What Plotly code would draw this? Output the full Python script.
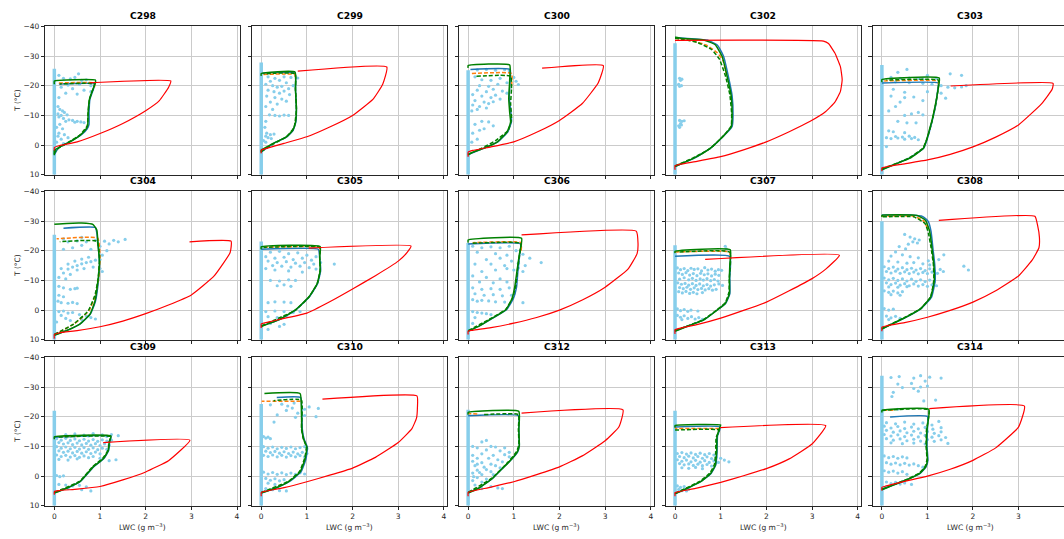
import plotly.graph_objects as go

# ---------------------------------------------------------------- data
PANELS = ["C298", "C299", "C300", "C302", "C303",
          "C304", "C305", "C306", "C307", "C308",
          "C309", "C310", "C312", "C313", "C314"]

X_TICKS = [0, 1, 2, 3, 4]
Y_TICKS = [-40, -30, -20, -10, 0, 10]

# top temperature of the dense column of near-zero LWC samples
COLUMN_TOP = {"C298": -25.7, "C299": -27.8, "C300": -25.2, "C302": -34.3, "C303": -27.0,
              "C304": -25.4, "C305": -23.1, "C306": -22.6, "C307": -21.8, "C308": -29.9,
              "C309": -22.0, "C310": -24.3, "C312": -22.3, "C313": -22.0, "C314": -33.8}

# in-cloud LWC samples (g m-3, T degC)
OBS = {
    "C298": [(0.53, -24), (0.1, -23.5), (0.2, -22.5), (0.35, -22.3), (0.45, -22.8), (0.6, -21.8),
             (0.7, -22), (0.8, -20), (0.55, -20.5), (0.3, -20.2), (0.15, -19.5), (0.4, -19),
             (0.65, -18.5), (0.8, -18), (0.25, -17.5), (0.5, -17.2), (0.1, -16), (0.08, -13),
             (0.12, -12), (0.18, -11.5), (0.22, -11), (0.08, -10.5), (0.15, -10), (0.28, -10.2),
             (0.1, -9.5), (0.2, -9), (0.32, -8.5), (0.4, -8.3), (0.5, -8), (0.58, -7.8),
             (0.65, -7.6), (0.45, -7.7), (0.25, -8), (0.12, -7), (0.05, -6), (0.18, -5.5),
             (0.1, -4), (0.22, -3.5), (0.08, -3), (0.15, -2), (0.3, -2.5), (0.05, -1), (0.2, -0.5)],
    "C299": [(0.15, -23), (0.3, -22.5), (0.5, -23), (0.65, -22.8), (0.8, -22.6), (0.2, -21.5),
             (0.4, -21.8), (0.55, -21), (0.1, -20.5), (0.25, -20), (0.35, -19.5), (0.45, -19.8),
             (0.6, -19), (0.7, -20), (0.15, -18.5), (0.28, -18), (0.4, -17.5), (0.5, -18.2),
             (0.62, -17), (0.12, -16.5), (0.3, -16), (0.45, -15.5), (0.2, -14.5), (0.35, -13.8),
             (0.55, -14.8), (0.1, -13), (0.25, -12), (0.18, -10.2), (0.3, -10), (0.4, -9.8),
             (0.5, -10.1), (0.6, -10), (0.1, -8), (0.08, -6), (0.12, -4), (0.2, -3.5),
             (0.28, -3.7), (0.1, -3), (0.15, -2.5), (0.22, -2.2), (0.05, -1.5), (0.1, -1)],
    "C300": [(0.2, -25.3), (0.4, -25.5), (0.6, -25.2), (0.8, -25.4), (0.9, -25), (1.0, -22.8),
             (1.05, -21.5), (1.1, -20.4), (0.15, -23), (0.3, -22), (0.5, -21.8), (0.7, -22.5),
             (0.85, -21), (0.25, -20), (0.45, -19.8), (0.65, -20.5), (0.2, -18.5), (0.4, -18),
             (0.55, -18.8), (0.75, -18.2), (0.85, -17.5), (0.1, -17), (0.3, -16.5), (0.5, -16),
             (0.6, -16.8), (0.7, -15.5), (0.15, -15), (0.35, -14.5), (0.45, -14), (0.55, -14.6),
             (0.1, -13.5), (0.25, -13), (0.4, -12.5), (0.2, -12), (0.08, -11.5), (0.3, -8),
             (0.45, -7.8), (0.15, -7), (0.55, -6.5), (0.25, -5), (0.1, -4), (0.35, -5.5),
             (0.2, -2), (0.08, -1)],
    "C302": [(0.1, -22.5), (0.15, -22.2), (0.12, -21.8), (0.08, -20.5), (0.1, -19.8), (0.14, -20),
             (0.1, -8.3), (0.15, -8), (0.2, -8.2), (0.12, -7.2), (0.08, -6.5), (0.14, -6.8),
             (0.1, -6)],
    "C303": [(0.35, -24.5), (0.55, -25.5), (0.9, -22.2), (1.0, -23.5), (1.2, -22.5), (1.5, -24),
             (1.75, -23.5), (0.2, -22.8), (0.4, -22.5), (0.6, -22.6), (0.8, -22.4), (0.3, -21.3),
             (0.6, -21), (0.9, -20.8), (1.1, -20.5), (1.3, -20), (1.45, -19.5), (1.6, -19.3),
             (1.75, -19.6), (1.85, -20), (0.25, -18.8), (0.5, -17.8), (1.0, -18), (1.3, -17.5),
             (1.4, -15.8), (0.2, -16.5), (0.5, -16), (0.7, -16.2), (0.4, -14.5), (0.9, -15),
             (0.3, -13), (0.15, -11.5), (0.5, -10), (0.8, -11), (0.65, -10.5), (0.9, -10.2),
             (0.35, -8), (0.55, -7.5), (0.75, -7.5), (0.25, -4.5), (0.15, -4.8), (0.5, -4.2),
             (0.1, -2.5), (0.2, -2.2), (0.35, -2.4), (0.5, -2), (0.65, -2.2), (0.8, -1.8),
             (0.3, -2.9), (0.45, -2.7), (0.6, -3.0), (0.72, -2.6), (0.1, 0.5)],
    "C304": [(0.3, -23), (0.5, -23.3), (0.7, -23), (0.9, -23.5), (1.1, -23.2), (1.3, -23.5),
             (1.4, -23), (1.55, -23.8), (0.2, -24), (0.6, -24.5), (1.2, -22.3), (1.0, -21.5),
             (1.15, -20), (1.05, -18.5), (0.8, -20.5), (0.6, -21.8), (0.4, -21), (0.2, -20.5),
             (0.1, -11), (0.2, -12.5), (0.3, -13.8), (0.4, -14.5), (0.5, -15), (0.6, -15.6),
             (0.7, -16), (0.8, -16.3), (0.9, -16.8), (1.0, -17), (0.15, -14), (0.3, -15.5),
             (0.45, -16.5), (0.6, -17.2), (0.75, -17.8), (0.25, -10.5), (0.35, -12), (0.5, -13.5),
             (0.65, -14), (0.85, -14.5), (1.0, -14), (1.05, -13), (0.1, -8), (0.2, -7.5),
             (0.35, -7), (0.45, -7.2), (0.5, -7.4), (0.1, -5), (0.2, -4.5), (0.08, -3),
             (0.15, -2.5), (0.3, -2.3), (0.4, -2.6), (0.5, -2.2), (0.1, 0.5), (0.2, 0.3),
             (0.3, 1), (0.4, 0.8), (0.55, 1.5), (0.7, 2), (0.8, 2.5), (0.9, 3), (0.6, 3.2),
             (0.15, 1.8), (0.25, 2.8), (0.35, 3.5), (0.05, 4)],
    "C305": [(0.2, -19.5), (0.4, -19.8), (0.6, -19), (0.8, -19.3), (1.0, -18.5), (1.2, -18),
             (0.1, -18), (0.3, -17.5), (0.5, -17.8), (0.7, -17), (0.9, -17.5), (1.1, -16.8),
             (1.3, -16), (0.15, -16.5), (0.35, -16), (0.55, -16.3), (0.75, -15.8), (0.95, -16),
             (1.15, -15.5), (1.6, -15.5), (0.25, -15), (0.45, -14.8), (0.65, -14.5), (0.85, -14.8),
             (1.05, -14.3), (1.2, -13.8), (0.1, -14), (0.3, -13.5), (0.6, -13.2), (0.9, -12.8),
             (0.2, -10), (0.4, -9.8), (0.6, -10.2), (0.75, -10), (0.5, -8.5), (0.35, -8.2),
             (0.65, -8), (0.15, -2.5), (0.3, -2.8), (0.5, -2.7), (0.65, -2.5), (0.1, 0.5),
             (0.3, 0.3), (0.5, 0.5), (0.7, 0.8), (0.85, 0.5), (0.15, 2.2), (0.35, 2.5),
             (0.55, 2), (0.2, 4.5), (0.4, 5.5), (0.5, 4.8), (0.15, 6.5)],
    "C306": [(0.1, -21.5), (0.3, -21), (0.5, -21.3), (0.7, -21), (0.9, -21.5), (1.05, -20),
             (0.2, -19.5), (0.6, -19), (0.85, -18.5), (1.2, -18.8), (1.35, -17.5), (1.6, -16),
             (0.4, -17), (0.7, -17.5), (0.95, -16.5), (1.1, -15.8), (1.25, -15), (0.15, -15.5),
             (0.5, -15.5), (0.8, -15), (0.85, -14), (1.0, -13.5), (1.1, -14.2), (0.3, -13),
             (0.6, -13.5), (1.2, -13), (0.1, -11.5), (0.4, -11), (0.7, -10.5), (0.25, -9.5),
             (0.55, -9.2), (0.85, -9.5), (0.1, -7.5), (0.3, -7), (0.5, -7.2), (0.7, -7),
             (0.9, -7.5), (0.15, -5.5), (0.35, -5), (0.55, -5.2), (0.75, -4.8), (0.95, -5),
             (1.2, -2.5), (0.1, -3.5), (0.2, -3), (0.3, -3.3), (0.45, -3.1), (0.6, -2.8),
             (0.8, -2.7), (0.1, 0.5), (0.2, 0.8), (0.3, 1), (0.4, 1.2), (0.5, 1.5),
             (0.15, 2.5), (0.1, 4.5)],
    "C307": [(0.05, -14.2), (0.12, -13.6), (0.2, -14.0), (0.28, -13.3), (0.35, -14.1), (0.42, -13.7),
             (0.5, -13.9), (0.58, -13.2), (0.65, -14.3), (0.72, -13.5), (0.8, -13.8), (0.88, -13.1),
             (0.95, -13.6), (1.02, -13.4), (0.08, -12.5), (0.16, -12.0), (0.24, -12.6), (0.32, -11.8),
             (0.4, -12.3), (0.48, -11.6), (0.56, -12.4), (0.64, -11.9), (0.72, -12.2), (0.8, -11.5),
             (0.88, -12.1), (0.96, -11.7), (0.1, -10.4), (0.2, -10.9), (0.3, -10.2), (0.38, -10.7),
             (0.46, -10.0), (0.55, -10.5), (0.62, -10.1), (0.7, -10.6), (0.78, -9.9), (0.86, -10.3),
             (0.94, -9.8), (0.06, -9.2), (0.14, -8.7), (0.22, -9.0), (0.3, -8.4), (0.38, -8.9),
             (0.46, -8.3), (0.54, -8.8), (0.62, -8.2), (0.7, -8.6), (0.78, -8.1), (0.86, -8.5),
             (0.96, -8.8), (1.04, -8.3), (0.1, -7.6), (0.18, -7.2), (0.26, -7.7), (0.34, -7.0),
             (0.42, -7.5), (0.5, -6.9), (0.58, -7.3), (0.66, -6.8), (0.74, -7.2), (0.82, -6.7),
             (0.9, -7.0), (0.08, -6.2), (0.16, -5.8), (0.24, -6.3), (0.32, -5.6), (0.4, -6.0),
             (0.48, -5.5), (0.6, -5.9), (0.05, -0.4), (0.12, 0.2), (0.2, -0.2), (0.28, 0.4),
             (0.35, 0.0), (0.5, 0.3), (0.05, 1.8), (0.12, 2.4), (0.2, 1.9), (0.28, 2.8),
             (0.36, 2.2), (0.44, 3.0), (0.52, 2.5), (0.6, 3.1), (0.15, 3.2), (1.1, -21.5),
             (1.12, -20.6)],
    "C308": [(0.5, -25.5), (0.62, -24.6), (0.72, -24.0), (0.82, -23.6), (0.68, -23.0), (0.78, -22.6),
             (0.58, -22.2), (0.38, -21.4), (0.52, -20.6), (0.3, -19.6), (0.45, -18.6), (0.2, -18.2),
             (0.62, -18.0), (0.8, -17.6), (1.02, -16.6), (1.25, -17.0), (1.36, -18.6), (0.15, -16.5),
             (0.35, -16.2), (0.55, -15.8), (0.7, -16.0), (0.9, -15.6), (1.05, -15.2), (1.8, -14.8),
             (1.9, -13.5), (0.05, -14.6), (0.15, -14.0), (0.25, -14.5), (0.35, -13.8), (0.45, -14.3),
             (0.55, -13.6), (0.65, -14.1), (0.75, -13.5), (0.85, -14.0), (0.95, -13.3), (1.05, -13.9),
             (1.15, -13.2), (1.28, -13.7), (0.1, -13.0), (0.2, -12.5), (0.3, -13.1), (0.4, -12.4),
             (0.5, -12.9), (0.6, -12.3), (0.7, -12.8), (0.8, -12.2), (0.9, -12.7), (1.0, -12.3),
             (1.1, -12.8), (1.22, -12.4), (1.35, -13.0), (0.05, -10.8), (0.15, -10.2), (0.25, -10.7),
             (0.35, -10.0), (0.45, -10.5), (0.55, -9.8), (0.65, -10.4), (0.75, -9.7), (0.85, -10.2),
             (0.95, -9.6), (1.05, -10.1), (1.15, -9.5), (0.1, -9.2), (0.2, -8.6), (0.3, -9.1),
             (0.4, -8.4), (0.5, -8.9), (0.6, -8.2), (0.7, -8.8), (0.8, -8.1), (0.9, -8.6),
             (1.0, -8.0), (1.1, -8.5), (1.2, -8.2), (0.15, -7.8), (0.35, -7.7), (0.55, -7.9),
             (0.05, -6.5), (0.15, -6.0), (0.25, -6.4), (0.35, -5.8), (0.45, -6.2), (0.2, -5.2),
             (0.4, -5.0), (0.05, -0.5), (0.15, 0.0), (0.25, -0.3), (0.1, 2.0), (0.2, 2.6),
             (0.3, 2.1), (0.4, 2.8), (0.15, 3.2)],
    "C309": [(0.25, -14.0), (0.45, -14.2), (0.65, -13.8), (0.85, -14.3), (1.05, -13.9), (1.25, -14.0),
             (1.4, -13.6), (0.35, -13.4), (0.75, -13.5), (1.15, -13.3), (0.05, -12.6), (0.15, -12.1),
             (0.25, -12.7), (0.35, -12.0), (0.45, -12.5), (0.55, -11.9), (0.65, -12.4), (0.75, -11.8),
             (0.85, -12.3), (0.95, -11.7), (1.05, -12.2), (1.15, -11.8), (1.25, -12.1), (0.1, -11.3),
             (0.2, -10.8), (0.3, -11.2), (0.4, -10.6), (0.5, -11.1), (0.6, -10.5), (0.7, -11.0),
             (0.8, -10.4), (0.9, -10.9), (1.0, -10.3), (1.1, -10.8), (1.2, -10.4), (0.05, -9.9),
             (0.15, -9.4), (0.25, -9.8), (0.35, -9.2), (0.45, -9.7), (0.55, -9.1), (0.65, -9.6),
             (0.75, -9.0), (0.85, -9.5), (0.95, -8.9), (1.05, -9.4), (1.15, -9.0), (0.1, -8.5),
             (0.2, -8.0), (0.3, -8.4), (0.4, -7.8), (0.5, -8.3), (0.6, -7.7), (0.7, -8.2),
             (0.8, -7.6), (0.9, -8.1), (1.0, -7.5), (0.05, -7.1), (0.15, -6.6), (0.25, -7.0),
             (0.35, -6.4), (0.45, -6.9), (0.55, -6.3), (0.65, -6.8), (0.75, -6.2), (0.85, -6.6),
             (1.0, -6.0), (1.35, -5.5), (1.2, -5.2), (0.1, -5.6), (0.3, -5.4), (0.5, -5.8),
             (0.05, -0.2), (0.12, 0.2), (0.2, -0.1), (0.1, 2.8), (0.25, 3.0), (0.4, 3.3),
             (0.55, 3.1), (0.7, 3.6), (0.3, 4.2), (0.6, 4.6), (0.8, 5.0)],
    "C310": [(0.2, -24.0), (0.45, -24.2), (0.58, -23.6), (0.68, -22.9), (0.72, -24.6), (0.55, -22.1),
             (0.35, -20.6), (0.8, -21.2), (0.95, -20.4), (1.05, -23.3), (1.25, -22.8), (1.2, -20.0),
             (0.75, -19.8), (0.95, -22.5), (0.28, -18.2), (0.05, -13.3), (0.1, -12.8), (0.15, -13.1),
             (0.2, -12.6), (0.05, -9.9), (0.15, -9.4), (0.25, -9.8), (0.35, -9.2), (0.45, -9.7),
             (0.55, -9.3), (0.65, -9.8), (0.75, -9.2), (0.85, -9.6), (0.95, -9.9), (1.0, -9.1),
             (0.1, -8.4), (0.2, -7.9), (0.3, -8.3), (0.4, -7.7), (0.5, -8.2), (0.6, -7.6),
             (0.7, -8.1), (0.8, -7.5), (0.9, -8.0), (1.0, -7.6), (0.05, -7.0), (0.15, -6.6),
             (0.25, -7.1), (0.35, -6.5), (0.45, -7.0), (0.55, -6.4), (0.65, -6.9), (0.75, -6.5),
             (0.85, -6.9), (0.95, -6.5), (0.05, -1.3), (0.15, -0.7), (0.25, -1.2), (0.35, -0.6),
             (0.45, -1.1), (0.55, -0.5), (0.65, -1.0), (0.75, -0.6), (0.85, -1.1), (0.95, -0.7),
             (0.1, 0.8), (0.2, 1.4), (0.3, 0.9), (0.4, 1.6), (0.5, 1.2), (0.15, 2.4),
             (0.3, 2.8), (0.1, 4.2), (0.25, 4.6), (0.4, 4.9), (0.55, 5.0)],
    "C312": [(0.4, -12), (0.3, -11.5), (0.1, -10), (0.2, -9.5), (0.5, -10), (0.6, -9.8),
             (0.8, -9.5), (0.4, -8.8), (0.7, -8.5), (0.9, -8), (0.3, -7.5), (0.55, -7),
             (0.8, -7.2), (0.9, -6.5), (0.2, -6), (0.45, -6), (0.65, -5.5), (0.75, -4.8),
             (0.1, -5), (0.3, -4.5), (0.5, -4), (0.15, -3.5), (0.35, -3), (0.6, -3.5),
             (0.7, -2.8), (0.2, -2), (0.4, -2.2), (0.5, -1.5), (0.1, -1), (0.3, -0.5),
             (0.55, -0.5), (0.2, 0.5), (0.4, 1), (0.1, 1.5), (0.3, 2), (0.15, 3),
             (0.5, 3.5), (0.65, 4), (0.75, 4.2), (0.3, 4.2), (0.1, -7.0), (0.2, -4.0),
             (0.25, -1.2), (0.12, 0.2)],
    "C313": [(0.05, -7.6), (0.15, -7.9), (0.25, -7.4), (0.35, -7.8), (0.45, -7.3), (0.55, -7.7),
             (0.65, -7.2), (0.75, -7.6), (0.85, -7.1), (0.1, -6.6), (0.2, -6.2), (0.3, -6.7),
             (0.4, -6.1), (0.5, -6.6), (0.6, -6.0), (0.7, -6.5), (0.8, -5.9), (0.9, -6.4),
             (1.0, -6.0), (1.08, -5.4), (1.18, -4.8), (0.05, -5.5), (0.15, -5.0), (0.25, -5.4),
             (0.35, -4.8), (0.45, -5.3), (0.55, -4.7), (0.65, -5.2), (0.75, -4.6), (0.85, -5.1),
             (0.95, -4.6), (0.1, -4.2), (0.2, -3.8), (0.3, -4.1), (0.4, -3.6), (0.5, -4.0),
             (0.6, -3.5), (0.7, -3.9), (0.8, -3.4), (0.15, -2.8), (0.3, -2.6), (0.45, -2.9),
             (0.6, -2.5), (0.05, 3.3), (0.12, 3.8), (0.2, 3.5), (0.08, 4.5), (0.15, 4.9),
             (0.25, 5.0), (0.3, 4.4)],
    "C314": [(0.2, -33.2), (0.38, -33.5), (0.7, -33.0), (0.85, -33.8), (1.05, -33.3), (1.3, -33.0),
             (0.35, -31.0), (0.65, -31.2), (0.95, -32.0), (0.45, -29.8), (0.7, -29.5), (0.85, -30.0),
             (1.0, -30.3), (0.25, -28.2), (0.8, -28.6), (0.22, -26.8), (0.92, -25.3), (1.18, -25.6),
             (0.35, -22.5), (0.1, -18.0), (0.3, -17.6), (0.5, -18.2), (0.7, -17.5), (0.9, -17.9),
             (1.1, -17.2), (1.25, -18.4), (0.05, -16.8), (0.2, -16.2), (0.35, -16.7), (0.5, -16.0),
             (0.65, -16.5), (0.8, -15.9), (0.95, -16.4), (1.12, -15.8), (1.3, -16.3), (0.1, -15.4),
             (0.25, -14.8), (0.4, -15.2), (0.55, -14.6), (0.7, -15.1), (0.85, -14.5), (1.0, -15.0),
             (1.15, -14.4), (1.3, -14.9), (0.05, -14.0), (0.2, -13.5), (0.35, -13.9), (0.5, -13.3),
             (0.65, -13.8), (0.8, -13.2), (0.95, -13.7), (1.1, -13.1), (1.25, -13.6), (1.4, -13.0),
             (0.1, -12.6), (0.25, -12.1), (0.4, -12.5), (0.55, -11.9), (0.7, -12.4), (0.85, -11.8),
             (1.0, -12.3), (1.15, -11.7), (1.3, -12.2), (1.45, -11.0), (0.2, -11.2), (0.45, -10.9),
             (0.7, -11.1), (0.95, -10.8), (0.05, -6.8), (0.15, -6.2), (0.25, -6.6), (0.35, -6.0),
             (0.45, -6.5), (0.55, -6.1), (0.1, -4.5), (0.2, -4.0), (0.3, -4.4), (0.4, -3.8),
             (0.5, -4.3), (0.6, -3.7), (0.7, -4.1), (0.8, -3.5), (0.9, -3.0), (0.05, -1.8),
             (0.15, -1.3), (0.25, -1.7), (0.35, -1.0), (0.45, -1.5), (0.55, -0.6), (0.1, 2.0),
             (0.2, 2.5), (0.3, 2.1), (0.4, 2.7), (0.5, 2.3), (0.65, 2.8), (0.1, 3.5)],
}

# adiabatic LWC profile (red)
ADIABATIC = {
    "C298": [(0, 1.8), (0, 0.8), (0.1, 0.2), (0.5, -1.1), (1.0, -3.9), (1.5, -7.3), (2.0, -11.6),
             (2.3, -15), (2.5, -19.4), (2.55, -21.6), (0.77, -21.0)],
    "C299": [(0, 2.8), (0, 1.7), (0.1, 1.2), (0.5, -0.6), (1.0, -2.8), (1.5, -6.1), (2.0, -10),
             (2.45, -15.5), (2.66, -20.5), (2.75, -26.3), (0.8, -24.9)],
    "C300": [(0, 3.9), (0, 2.4), (0.1, 1.8), (0.5, 0.6), (1.0, -1.1), (1.5, -4.3), (2.0, -8.3),
             (2.5, -14), (2.85, -21), (2.96, -26.8), (1.62, -25.9)],
    "C302": [(0, 8.3), (0, 6.9), (0.1, 6.5), (0.5, 5.4), (1.0, 3.9), (1.5, 1.6), (2.0, -1.1),
             (2.5, -4.5), (2.96, -8), (3.3, -11.3), (3.5, -14.5), (3.62, -18), (3.66, -22),
             (3.62, -26.5), (3.5, -31), (3.36, -34.2), (3.25, -35), (0, -35.3)],
    "C303": [(0, 8.8), (0, 7.7), (0.1, 7.3), (0.5, 6.3), (1.0, 5), (1.5, 3.1), (2.0, 0.6),
             (2.5, -2.7), (3.0, -6.8), (3.5, -13.8), (3.74, -18.8), (3.76, -20.8), (1.51, -19.9)],
    "C304": [(0, 9.6), (0, 8.2), (0.1, 7.7), (0.5, 6.9), (1.0, 5.6), (1.5, 3.7), (2.0, 1.2),
             (2.5, -1.7), (3.0, -5.1), (3.5, -11.5), (3.85, -19.4), (3.87, -23.2), (2.96, -23)],
    "C305": [(0, 6.0), (0, 4.6), (0.1, 4.2), (0.5, 2.8), (1.0, 1.0), (1.5, -2.8), (2.0, -7.1),
             (2.5, -11.6), (3.0, -16.5), (3.2, -19.5), (3.28, -21.6), (1.04, -20.9)],
    "C306": [(0, 8.2), (0, 7.1), (0.1, 6.8), (0.5, 5.9), (1.0, 4.4), (1.5, 2.5), (2.0, 0),
             (2.5, -3.4), (3.0, -7.7), (3.5, -13.8), (3.7, -19), (3.72, -22.5), (3.68, -26.6),
             (1.17, -25.3)],
    "C307": [(0, 8), (0, 6.6), (0.1, 6.1), (0.5, 4.8), (1.0, 2.7), (1.5, 0.1), (2.0, -2.7),
             (2.5, -6.5), (3.0, -10.6), (3.3, -13.8), (3.6, -18.5), (0.66, -17.1)],
    "C308": [(0, 7.1), (0, 5.7), (0.1, 5.3), (0.5, 4.2), (1.0, 2.4), (1.5, 0.1), (2.0, -2.7),
             (2.5, -6.5), (3.0, -11.5), (3.3, -16.8), (3.45, -21), (3.46, -24.5), (3.42, -28.5),
             (3.36, -31.6), (1.25, -30.2)],
    "C309": [(0, 6.3), (0, 5.2), (0.1, 4.9), (0.5, 4.4), (1.0, 3.5), (1.5, 1.3), (2.0, -1.4),
             (2.5, -5.2), (2.97, -12.1), (1.07, -11.3)],
    "C310": [(0, 6.8), (0, 5.5), (0.1, 5.1), (0.5, 3.9), (1.0, 1.9), (1.5, -0.3), (2.0, -2.7),
             (2.5, -6.3), (3.0, -11.3), (3.3, -16), (3.4, -19.5), (3.42, -23), (3.41, -27),
             (1.34, -25.9)],
    "C312": [(0, 6.8), (0, 5.5), (0.1, 5.0), (0.5, 3.7), (1.0, 1.9), (1.5, -0.5), (2.0, -3.1),
             (2.5, -6.8), (3.0, -11.9), (3.3, -16.5), (3.39, -22.3), (1.17, -21.2)],
    "C313": [(0, 6.8), (0, 5.6), (0.1, 5.2), (0.5, 4.0), (1.0, 2.1), (1.5, -0.1), (2.0, -2.5),
             (2.5, -5.8), (3.0, -10.8), (3.3, -17), (0.99, -16.3)],
    "C314": [(0, 4.9), (0, 3.8), (0.1, 3.3), (0.5, 1.8), (1.0, 0), (1.5, -2.3), (2.0, -5.3),
             (2.5, -9.5), (3.0, -16.5), (3.13, -23.6), (1.04, -22.7)],
}

# modelled profiles
MODEL_GREEN = {
    "C298": [(0, 3.4), (0, 1.8), (0.12, 0.6), (0.34, -1.1), (0.56, -3.3), (0.69, -5.3), (0.73, -6.6),
             (0.74, -11), (0.77, -15.5), (0.84, -18.6), (0.9, -21), (0.9, -21.9), (0, -21.6), (0, -20.5)],
    "C299": [(0, 2.5), (0, 1.7), (0.1, 0.8), (0.26, -0.6), (0.55, -2.8), (0.69, -5), (0.75, -7.7),
             (0.77, -12.2), (0.75, -18.8), (0.74, -24.6), (0, -24.1), (0, -23.3)],
    "C300": [(0, 3.3), (0.1, 2.4), (0.34, 1.1), (0.64, -1.1), (0.85, -4.4), (0.93, -7.7), (0.91, -11),
             (0.89, -15.5), (0.91, -22), (0.91, -27), (0, -26.8), (0, -26)],
    "C302": [(0, 7.2), (0.41, 4.4), (0.77, 1.1), (1.07, -3.3), (1.23, -6.1), (1.25, -9.9), (1.23, -16.6),
             (1.14, -23.2), (1.03, -29.9), (0.88, -33.8), (0.63, -35.4), (0.12, -36), (0, -36.3)],
    "C303": [(0, 8.3), (0.26, 6.6), (0.62, 4.4), (0.91, 1.1), (0.99, -2.2), (1.04, -5), (1.09, -7.7),
             (1.17, -13.3), (1.24, -19.3), (1.26, -22.6), (0, -22.1), (0, -21.2)],
    "C304": [(0, 8.5), (0.27, 6.9), (0.56, 4.7), (0.78, 1.4), (0.89, -3), (0.96, -10.6), (0.99, -16.1),
             (0.96, -21.6), (0.93, -27), (0.85, -28.8), (0.6, -29.3), (0.27, -29.2), (0, -28.9)],
    "C305": [(0, 5.5), (0.38, 3.3), (0.74, 0), (1.04, -4.4), (1.22, -8.8), (1.29, -13.2), (1.28, -17.6),
             (1.29, -21.4), (0, -21.3), (0, -20.5)],
    "C306": [(0, 7.1), (0.23, 5.5), (0.53, 2.7), (0.82, 0), (0.96, -3.8), (1.02, -7.7), (1.07, -13.2),
             (1.12, -18.7), (1.17, -24.2), (0, -23.6), (0, -22.7)],
    "C307": [(0, 7.1), (0.26, 5.5), (0.63, 3.3), (0.92, 0), (1.1, -2.2), (1.19, -5.5), (1.19, -11),
             (1.2, -15.4), (1.21, -20.3), (0, -19.8), (0, -19.2)],
    "C308": [(0, 6.4), (0.26, 4.4), (0.55, 2.2), (0.85, -0.5), (1.07, -4.4), (1.15, -9.9), (1.14, -15.4),
             (1.1, -20.9), (1.05, -26.4), (0.96, -30.2), (0.77, -31.9), (0, -31.9), (0, -31.4)],
    "C309": [(0, 5.7), (0.27, 4.1), (0.56, 1.9), (0.85, -3.1), (1.07, -5.8), (1.18, -8.6), (1.2, -11.3),
             (1.24, -13.5), (0, -13.2), (0, -12.4)],
    "C310": [(0, 5.7), (0.31, 4.1), (0.6, 1.9), (0.85, -1.4), (0.96, -5.8), (1.0, -9.7), (0.93, -12.4),
             (0.89, -15.7), (0.88, -21.2), (0.85, -27.8), (0.07, -27.8)],
    "C312": [(0, 5.7), (0.23, 4.1), (0.53, 0.8), (0.67, -1.4), (0.89, -4.7), (1.07, -8), (1.12, -10.2),
             (1.11, -15.7), (1.11, -21.8), (0, -21.4), (0, -20.7)],
    "C313": [(0, 6), (0.27, 4.1), (0.56, 1.9), (0.78, -0.9), (0.88, -3.6), (0.91, -8), (0.92, -13.5),
             (0.99, -16.8), (1.0, -17.2), (0, -17.0), (0, -16.3)],
    "C314": [(0, 4.6), (0.25, 3), (0.54, 1.3), (0.83, -0.9), (0.96, -3.1), (1.0, -5.3), (0.98, -10.2),
             (0.99, -15.7), (1.03, -22.5), (0, -22.1), (0, -21.4)],
}

MODEL_GREEN_DASH = {
    "C298": [(0, 3.0), (0.05, 1.5), (0.3, -0.9), (0.56, -3.4), (0.72, -6.5), (0.74, -11), (0.77, -15.5),
             (0.85, -19), (0.88, -20.6), (0.12, -20.6)],
    "C299": [(0, 2.2), (0.28, -0.5), (0.56, -2.9), (0.72, -6), (0.77, -12), (0.75, -19), (0.74, -24.0),
             (0.05, -24.0)],
    "C300": [(0, 3.1), (0.3, 1), (0.6, -1.5), (0.88, -5), (0.95, -9), (0.93, -14), (0.95, -19),
             (0.93, -23.2), (0.18, -23.2)],
    "C302": [(0, 7.0), (0.4, 4.3), (0.78, 1.0), (1.08, -3.4), (1.23, -6.5), (1.24, -10.5), (1.2, -17),
             (1.1, -23.5), (0.97, -29), (0.8, -32.2), (0.5, -34.5), (0.2, -35.6), (0, -36.0)],
    "C303": [(0, 8.1), (0.6, 4.3), (0.9, 1.0), (1.0, -2.5), (1.1, -8), (1.18, -13.5), (1.24, -19.5),
             (1.24, -21.9), (0.1, -21.9)],
    "C304": [(0, 8.2), (0.42, 4.7), (0.74, 0.3), (0.89, -5.1), (0.96, -10.6), (0.99, -18.3), (0.93, -23.2),
             (0.12, -23.0)],
    "C305": [(0, 5.3), (0.75, 0), (1.05, -4.5), (1.23, -9), (1.29, -13.5), (1.28, -18), (1.28, -21.1),
             (0.05, -21.1)],
    "C306": [(0, 6.9), (0.52, 2.6), (0.82, -0.2), (0.97, -4), (1.04, -8), (1.08, -13.5), (1.13, -19),
             (1.15, -22.5), (0.1, -22.5)],
    "C307": [(0, 6.9), (0.62, 3.2), (0.92, -0.1), (1.1, -2.5), (1.18, -6), (1.19, -11), (1.2, -19.5),
             (0.05, -19.5)],
    "C308": [(0, 6.2), (0.55, 2.1), (0.86, -0.6), (1.07, -4.5), (1.14, -10), (1.13, -15.5), (1.08, -21),
             (1.02, -26), (0.95, -29.1), (0.7, -31.4), (0, -31.4)],
    "C309": [(0, 5.5), (0.55, 1.8), (0.84, -3.2), (1.06, -6), (1.18, -8.8), (1.2, -11.5), (1.23, -13.3),
             (0.05, -13.1)],
    "C310": [(0, 5.5), (0.6, 1.7), (0.84, -1.6), (0.95, -6), (0.99, -9.8), (0.92, -12.6), (0.88, -16),
             (0.88, -25.6), (0.27, -25.4)],
    "C312": [(0, 5.5), (0.53, 0.6), (0.88, -4.8), (1.06, -8.2), (1.11, -10.5), (1.1, -16), (1.1, -20.7),
             (0.35, -20.7)],
    "C313": [(0, 5.8), (0.54, 1.8), (0.76, -1.0), (0.86, -3.8), (0.89, -8), (0.9, -13), (0.97, -15.5),
             (0, -15.5)],
    "C314": [(0, 4.4), (0.53, 1.2), (0.82, -1), (0.95, -3.3), (0.99, -5.5), (0.97, -10.3), (0.98, -15.7),
             (1.03, -22.3), (0, -22.1)],
}

MODEL_BLUE = {
    "C298": [(0, 3.2), (0.1, 0.8), (0.35, -1.2), (0.6, -3.6), (0.72, -5.5), (0.76, -7), (0.76, -11),
             (0.78, -15.5), (0.86, -19), (0.88, -20.6), (0.1, -20.6)],
    "C299": [(0, 2.3), (0.27, -0.6), (0.56, -2.8), (0.7, -5), (0.76, -8), (0.77, -12.2), (0.75, -18.8),
             (0.74, -24.2), (0.03, -24.2)],
    "C300": [(0, 3.2), (0.35, 1), (0.66, -1.2), (0.87, -4.5), (0.95, -8), (0.93, -12), (0.9, -16),
             (0.92, -22), (0.92, -25.5), (0.05, -25.5)],
    "C302": [(0, 7.2), (0.42, 4.4), (0.78, 1.0), (1.08, -3.3), (1.25, -6.3), (1.27, -10), (1.25, -16.6),
             (1.17, -23), (1.06, -30), (0.93, -33.6), (0.7, -35.4), (0.2, -36), (0, -36.2)],
    "C303": [(0, 8.2), (0.6, 4.4), (0.92, 1), (1.0, -2.3), (1.1, -7.8), (1.18, -13.4), (1.23, -19),
             (1.24, -20.9), (0, -20.9)],
    "C304": [(0, 8.4), (0.28, 6.8), (0.57, 4.6), (0.79, 1.3), (0.9, -3), (0.97, -10.6), (0.99, -16),
             (0.96, -21.6), (0.93, -26), (0.9, -27.8), (0.2, -27.6)],
    "C305": [(0, 5.4), (0.4, 3.2), (0.76, -0.1), (1.05, -4.4), (1.23, -8.8), (1.3, -13.2), (1.28, -17.6),
             (1.25, -20.5), (0, -20.5)],
    "C306": [(0, 7.0), (0.24, 5.4), (0.55, 2.6), (0.84, -0.1), (0.99, -3.8), (1.06, -7.7), (1.09, -13.2),
             (1.13, -18.7), (1.15, -22.3), (0, -22.3)],
    "C307": [(0, 7.0), (0.27, 5.4), (0.64, 3.2), (0.93, -0.1), (1.11, -2.3), (1.2, -5.5), (1.2, -11),
             (1.2, -18.1), (0, -18.1)],
    "C308": [(0, 6.3), (0.27, 4.3), (0.57, 2.1), (0.87, -0.6), (1.09, -4.4), (1.17, -9.9), (1.16, -15.4),
             (1.12, -20.9), (1.08, -26.4), (1.02, -29.8), (0.9, -31.5), (0.6, -32), (0, -32)],
    "C309": [(0, 5.6), (0.28, 4.0), (0.57, 1.8), (0.86, -3.1), (1.08, -5.8), (1.19, -8.6), (1.21, -11.3),
             (1.24, -13.4), (0, -13.1)],
    "C310": [(0, 5.6), (0.32, 4.0), (0.62, 1.8), (0.87, -1.4), (0.98, -5.8), (1.01, -9.7), (0.94, -12.4),
             (0.9, -15.7), (0.89, -21.2), (0.86, -26.5), (0.34, -26.5)],
    "C312": [(0, 5.6), (0.24, 4.0), (0.54, 0.7), (0.68, -1.5), (0.9, -4.8), (1.08, -8), (1.12, -10.2),
             (1.11, -15.7), (1.1, -20.3), (0, -20.3)],
    "C313": [(0, 5.9), (0.28, 4.0), (0.57, 1.8), (0.79, -0.9), (0.89, -3.6), (0.92, -8), (0.93, -13.5),
             (0.99, -16.5), (0, -16.5)],
    "C314": [(0, 4.5), (0.26, 2.9), (0.55, 1.2), (0.84, -0.9), (0.97, -3.1), (1.01, -5.3), (0.99, -10.2),
             (1.0, -15.7), (1.0, -20.1), (0.18, -19.9)],
}

MODEL_ORANGE = {
    "C298": [(0.88, -19.5), (0.88, -20.9), (0.1, -20.9)],
    "C299": [(0.74, -23.0), (0.74, -23.8), (0.05, -23.8)],
    "C300": [(0.95, -20), (0.95, -24.1), (0.08, -24.1)],
    "C302": [(0, -36.0), (0.35, -35.2), (0.7, -33.6), (0.93, -31), (1.05, -28.5), (1.13, -23.5)],
    "C303": [(1.24, -20.5), (1.24, -21.6), (0.05, -21.6)],
    "C304": [(0, 8.3), (0.44, 4.6), (0.76, 0.2), (0.9, -5), (0.97, -10.6), (1.0, -18), (0.95, -24.2),
             (0.05, -24.0)],
    "C305": [(1.28, -20.5), (1.28, -21.2), (0.05, -21.2)],
    "C306": [(1.16, -20), (1.16, -22.7), (0.1, -22.7)],
    "C307": [(1.2, -18.5), (1.2, -19.6), (0, -19.6)],
    "C308": [(1.0, -27.5), (0.92, -30), (0.7, -31.6), (0, -31.6)],
    "C309": [(0.2, -13.4), (0.55, -13.5)],
    "C310": [(0.86, -25.2), (0.01, -25.2)],
    "C312": [(0.2, -20.9), (0, -21.1)],
    "C313": [(0.97, -16.0), (0, -16.0)],
    "C314": [(0.25, -22.2), (0, -22.2)],
}

# ---------------------------------------------------------------- layout
W, H = 1064, 539
COL_LEFT = [45.2, 252.1, 459.0, 665.9, 872.8]
ROW_TOP = [22.7, 190.5, 359.3]
AX_W, AX_H = 195.0, 151.0
X_MIN, X_MAX = -0.2, 4.07

FONT = "DejaVu Sans"
SKY = "#87ceeb"
GRID = "#cbcbcb"
INK = "#262626"

fig = go.Figure()
annotations = []


def unzip(pairs):
    return [p[0] for p in pairs], [p[1] for p in pairs]


for i, name in enumerate(PANELS):
    r, c = divmod(i, 5)
    k = "" if i == 0 else str(i + 1)
    xa, ya = "x" + k, "y" + k

    left = COL_LEFT[c]
    right = left + AX_W
    x_hi = X_MAX
    if right > W:
        right = W
        x_hi = 4.0
    top = ROW_TOP[r]
    bottom = top + AX_H

    common = dict(showline=True, linecolor=INK, linewidth=0.8, ticks="outside", ticklen=3.5,
                  tickwidth=0.8, tickcolor=INK, showgrid=True, gridcolor=GRID, gridwidth=0.8,
                  zeroline=False, tickfont=dict(family=FONT, size=7.5, color=INK))
    fig.layout["xaxis" + k] = dict(
        common, domain=[left / W, right / W], range=[X_MIN, x_hi], anchor=ya,
        tickmode="array", tickvals=X_TICKS, showticklabels=(r == 2), mirror=True)
    fig.layout["yaxis" + k] = dict(
        common, domain=[1 - bottom / H, 1 - top / H], range=[10, -40], anchor=xa,
        tickmode="array", tickvals=Y_TICKS, showticklabels=(c == 0),
        mirror=(right < W))

    # dense column of clear-air samples at LWC ~ 0
    fig.add_trace(go.Scatter(x=[0, 0], y=[10, COLUMN_TOP[name]], mode="lines",
                             line=dict(color=SKY, width=3.5), xaxis=xa, yaxis=ya,
                             hoverinfo="skip"))
    ox, oy = unzip(OBS[name])
    fig.add_trace(go.Scatter(x=ox, y=oy, mode="markers",
                             marker=dict(color=SKY, size=3.2, line=dict(width=0)),
                             xaxis=xa, yaxis=ya))

    for series, color, dash in ((MODEL_BLUE, "#1f77b4", "solid"),
                                (MODEL_ORANGE, "#ff7f0e", "4px,2px"),
                                (MODEL_GREEN, "#008000", "solid"),
                                (MODEL_GREEN_DASH, "#008000", "4px,2px"),
                                (ADIABATIC, "#ff0000", "solid")):
        lx, ly = unzip(series[name])
        width = 1.2 if series is ADIABATIC else 1.5
        fig.add_trace(go.Scatter(x=lx, y=ly, mode="lines",
                                 line=dict(color=color, width=width, dash=dash,
                                           shape="spline", smoothing=0.4),
                                 xaxis=xa, yaxis=ya))

    # panel title
    annotations.append(dict(text="<b>" + name + "</b>", x=(left + AX_W / 2) / W,
                            y=1 - (top - 3) / H, xref="paper", yref="paper",
                            xanchor="center", yanchor="bottom", showarrow=False,
                            font=dict(family=FONT, size=9.2, color="#000")))
    if c == 0:
        annotations.append(dict(text="T (°C)", x=17.5 / W, y=1 - (top + AX_H / 2) / H,
                                xref="paper", yref="paper", textangle=-90,
                                xanchor="center", yanchor="middle", showarrow=False,
                                font=dict(family=FONT, size=7.5, color=INK)))
    if r == 2:
        annotations.append(dict(text="LWC (g m<sup>−3</sup>)", x=(left + AX_W / 2) / W,
                                y=1 - 532 / H, xref="paper", yref="paper",
                                xanchor="center", yanchor="middle", showarrow=False,
                                font=dict(family=FONT, size=7.5, color=INK)))

fig.update_layout(width=W, height=H, margin=dict(l=0, r=0, t=0, b=0),
                  paper_bgcolor="white", plot_bgcolor="white", showlegend=False,
                  annotations=annotations, font=dict(family=FONT))

fig.write_html("out.html")
